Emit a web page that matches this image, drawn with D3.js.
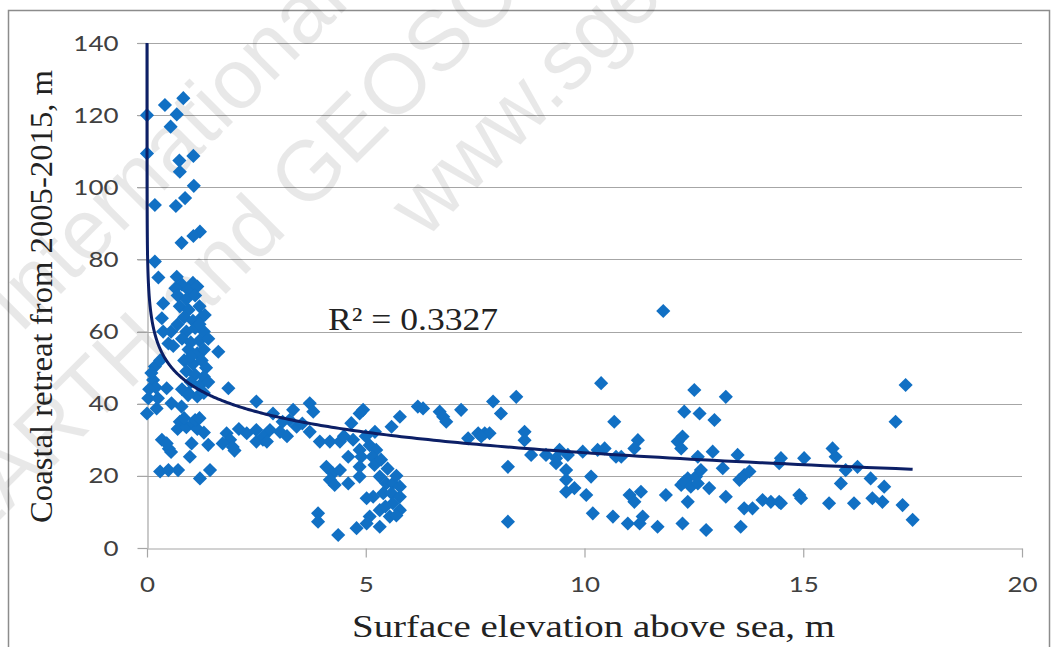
<!DOCTYPE html>
<meta charset="utf-8">
<style>
  body { margin: 0; background: #fff; }
</style>
<svg width="1057" height="647"></svg>
<script src="https://d3js.org/d3.v7.min.js"></script>
<script>
// surface elevation above sea (m) and coastal retreat 2005-2015 (m)
var elevation = [
  0, 0.41, 0.83, 0.68, 0.54, 0, 1.06, 0.74, 0.75, 1.07, 0.18, 0.87, 0.66, 1.21, 1.06, 0.79, 0.18, 0.26, 0.68, 0.8, 1.05, 0.95,
  0.65, 1.15, 0.7, 0.9, 1.1, 0.75, 0.95, 1.2, 0.85, 1.05, 1.25, 1.32, 0.7, 0.9, 1.1, 1.3, 0.8, 1.0, 1.2, 1.4, 0.95, 1.15, 1.3,
  0.85, 1.05, 1.25, 1.35, 0.9, 1.1, 1.3, 1.0, 1.2, 1.4, 0.95, 1.15, 1.3, 0.6, 0.55, 1.63, 0.8, 1.0, 1.2,
  0.37, 0.34, 0.37, 0.49, 0.18, 0.14, 0.1, 0.2, 0.45, 1.86, 0.03, 0.22, 0, 0.56, 0.79, 0.94, 0.25, 0.05, 0.3,
  0.75, 0.7, 0.9, 1.05, 1.15, 1.3, 1.1, 0.85, 1.2,
  0.34, 0.5, 0.55, 1.02, 1.4, 0.98, 0.3, 0.49, 0.71, 1.44, 1.21, 0.45,
  1.82, 1.9, 1.73, 1.96, 2.28, 2.5, 2.65, 2.5, 2.5, 2.1, 2.0,
  2.88, 3.34, 3.26, 3.42, 3.04, 2.81, 2.66, 2.74, 3.72, 3.8, 3.72, 4.94, 4.86, 4.67, 5.78, 5.59, 6.19, 5.21, 3.1, 3.55, 3.2,
  3.95, 4.18, 4.41, 4.71, 4.86, 5.09, 5.24, 4.6, 4.9, 5.15, 4.86, 5.2, 5.35, 4.1, 4.25, 4.41, 4.18, 4.29, 4.6, 4.86, 5.32,
  5.47, 5.62, 5.78, 5.4, 5.59, 5.78, 5.17, 5.62, 5.78, 5.32, 5.09, 5.55, 5.02, 5.32, 4.79, 3.91, 3.91, 4.37, 5.02, 4.5, 5.0,
  5.5, 5.7, 5.45, 5.7,
  6.31, 6.69, 6.77, 6.84, 7.18, 7.91, 8.44, 8.09, 7.34, 7.57, 7.72, 7.83, 7.64, 8.63, 8.63, 8.78, 8.25, 8.25, 10.38, 10.68,
  9.12, 9.35, 9.43, 9.62, 9.96, 10.3, 10.46, 9.35, 9.58, 9.58, 9.58, 9.77, 10.04, 10.15, 10.19, 10.65, 10.72,
  10.84, 11.22, 11.14, 11.03, 11.14, 11.29, 10.99, 11.26, 11.33, 11.67, 11.86, 12.51, 13.23, 12.28, 12.63, 12.97, 12.13,
  12.24, 12.21, 12.59, 12.93, 13.5, 13.16, 14.49, 14.45, 12.21, 12.36, 12.55, 12.66, 12.28, 12.43, 12.59, 12.85, 12.36,
  12.24, 12.78, 13.23, 13.57, 13.54, 13.65, 13.77, 13.65, 13.84, 14.07, 14.26, 14.45, 14.91, 14.95, 11.8,
  17.34, 17.11, 15.02, 15.67, 15.74, 15.97, 16.24, 15.86, 16.54, 16.85, 14.49, 15.59, 16.16, 16.58, 16.81, 17.27, 17.5
];
var retreat = [
  120, 122.8, 124.7, 120.2, 116.8, 109.4, 108.7, 107.4, 104.3, 100.4, 95.1, 97, 94.8, 87.7, 86.5, 84.6, 79.4, 75, 75.2, 73, 73.5, 71.5,
  72, 72.5, 70, 69, 70, 67, 66, 67, 64, 63, 64, 64.6, 62, 60, 61, 60, 58, 57, 57.5, 58, 55, 54, 55,
  52, 51, 52, 50, 49, 48, 47.5, 46, 45, 46, 43, 42, 43, 56, 60, 54.4, 44, 53, 62,
  67.8, 63.7, 60, 56.7, 50.3, 46.6, 48.5, 44.5, 44.3, 44.3, 41.5, 38.7, 37.3, 40.1, 39.2, 42.4, 41.5, 44, 52,
  35, 33, 33.5, 34.5, 33, 32, 35.5, 36, 36,
  30, 27.5, 26.6, 29, 28.6, 25.3, 21.2, 21.6, 21.6, 21.6, 19.3, 29,
  31.8, 30, 29, 28, 31.8, 32.7, 30, 29.5, 40.6, 33, 27,
  37.3, 38.3, 35.5, 33.6, 32.2, 32.7, 30.9, 29.5, 40.1, 37.8, 32.2, 38.3, 37.3, 34.6, 36.4, 33.6, 39.2, 32.2, 35, 34.5, 31,
  29.5, 29.5, 29.5, 30, 27.2, 28.5, 27.2, 25.3, 25.3, 25.3, 22.5, 23, 24.5, 22.5, 20.7, 21.6, 18.9, 17.5, 17.9, 19.8, 19.8,
  17.9, 17.9, 17, 15.2, 15.2, 14.2, 14.2, 12.4, 10.5, 10.5, 8.7, 8.7, 6.8, 5.9, 5.5, 9.6, 7.3, 3.6, 13.8, 31, 31,
  22, 20, 11.5, 9,
  38.7, 37.8, 36.4, 35, 38.3, 40.6, 41.9, 37.3, 30.4, 31.8, 31.8, 31.8, 30.9, 32.2, 29.9, 25.8, 22.5, 7.3, 45.7, 35,
  25.8, 24.9, 27.2, 25.8, 26.7, 27.2, 27.6, 23.5, 21.6, 18.9, 15.6, 16.6, 14.7, 19.8, 9.6, 8.7, 25.3,
  25.3, 29.9, 27.6, 14.7, 12.8, 15.6, 6.8, 6.8, 8.7, 5.9, 14.7, 43.8, 41.9, 37.8, 37.3, 35.5, 29.5,
  30.9, 27.6, 25.3, 26.7, 25.8, 22.1, 24.9, 23.5, 17.5, 19.3, 19.8, 21.6, 18.4, 17, 17.9, 16.6, 12.8,
  6.8, 5, 14.2, 5.9, 18.9, 20.2, 21.2, 11, 11, 13.3, 12.8, 12.8, 14.7, 13.8, 65.7,
  45.2, 35, 24.9, 27.6, 25.3, 21.6, 22.5, 17.9, 19.3, 17, 12.4, 12.4, 12.4, 13.8, 12.8, 11.9, 7.8
];

// logarithmic trend line y = a*ln(x) + b, as shown on the chart
var trendCoef = [-8.2, 45.3];
var rSquared = "R\u00b2 = 0.3327";

var xTicks = [0, 5, 10, 15, 20];
var yTicks = [0, 20, 40, 60, 80, 100, 120, 140];

var watermarks = ["International", "EARTH and GEOSCIENCES", "www.sgem.org"];

var svg = d3.select("svg");
var plotLeft = 147, plotRight = 1022, plotTop = 43, plotBottom = 548;

var x = d3.scaleLinear().domain([0, 20]).range([plotLeft, plotRight]);
var y = d3.scaleLinear().domain([0, 140]).range([plotBottom, plotTop]);

var serif = "'Liberation Serif', 'Times New Roman', serif";
var sans = "Lato, 'Open Sans', sans-serif";

// outer chart frame
svg.append("rect")
    .attr("x", 8.5).attr("y", 10.5)
    .attr("width", 1041).attr("height", 660)
    .attr("fill", "none")
    .attr("stroke", "#8c8c8c")
    .attr("stroke-width", 1.5);

// gridlines
svg.append("g")
    .selectAll("line")
    .data(yTicks.slice(1))
    .join("line")
    .attr("x1", plotLeft - 10).attr("x2", plotRight)
    .attr("y1", d => Math.round(y(d)) + 0.5)
    .attr("y2", d => Math.round(y(d)) + 0.5)
    .attr("stroke", "#a6a6a6")
    .attr("stroke-width", 1.2);

// watermark
var wm = svg.append("g")
    .attr("fill", "#000")
    .attr("fill-opacity", 0.09)
    .style("font-family", "'Liberation Sans', Arial, sans-serif")
    .style("font-size", "85px");
wm.append("text").attr("transform", "translate(20,335) rotate(-45)").text(watermarks[0]);
wm.append("text").attr("transform", "translate(-31,551) rotate(-45)").text(watermarks[1]);
wm.append("text").attr("transform", "translate(425,240) rotate(-45)").text(watermarks[2]);

// stretch tick labels a little wider, as in the original
function widen(sel, k) {
  sel.each(function() {
    var w = this.getComputedTextLength();
    d3.select(this).attr("textLength", w * k).attr("lengthAdjust", "spacingAndGlyphs");
  });
}

// x axis
var xAxis = svg.append("g")
    .attr("transform", "translate(0," + (plotBottom + 0.5) + ")")
    .call(d3.axisBottom(x).tickValues(xTicks).tickSize(9).tickSizeOuter(0).tickPadding(19));
xAxis.select(".domain").attr("stroke", "#a6a6a6").attr("stroke-width", 1.2);
xAxis.selectAll(".tick line").attr("stroke", "#a6a6a6").attr("stroke-width", 1.2);
xAxis.selectAll("text")
    .attr("fill", "#404040")
    .style("font-family", sans)
    .style("font-size", "22px")
    .call(widen, 1.18);

// y axis
var yAxis = svg.append("g")
    .attr("transform", "translate(" + (plotLeft + 0.5) + ",0)")
    .call(d3.axisLeft(y).tickValues(yTicks).tickSize(10).tickSizeOuter(0).tickPadding(19));
yAxis.select(".domain").attr("stroke", "#a6a6a6").attr("stroke-width", 1.2);
yAxis.selectAll(".tick line").attr("stroke", "#a6a6a6").attr("stroke-width", 1.2);
yAxis.selectAll("text")
    .attr("fill", "#404040")
    .style("font-family", sans)
    .style("font-size", "22px")
    .call(widen, 1.18);

// points
var pts = elevation.map((e, i) => ({e: e, r: retreat[i]}));
var diamond = d3.symbol().type(d3.symbolSquare).size(100);
svg.append("g")
    .selectAll("path")
    .data(pts)
    .join("path")
    .attr("d", diamond)
    .attr("transform", d => "translate(" + x(d.e) + "," + y(d.r) + ") rotate(45)")
    .attr("fill", "#1170c4");

// trend line, clipped to the plot area
svg.append("clipPath").attr("id", "plot")
    .append("rect")
    .attr("x", plotLeft - 3).attr("y", plotTop)
    .attr("width", plotRight - plotLeft + 3).attr("height", plotBottom - plotTop);

var maxE = d3.max(elevation);
var trendX = d3.range(-16, Math.log(maxE) + 0.02, 0.02).map(Math.exp);
trendX[trendX.length - 1] = maxE;
var line = d3.line()
    .x(d => x(d))
    .y(d => y(trendCoef[0] * Math.log(d) + trendCoef[1]));
svg.append("path")
    .datum(trendX)
    .attr("clip-path", "url(#plot)")
    .attr("d", line)
    .attr("fill", "none")
    .attr("stroke", "#0c1f66")
    .attr("stroke-width", 3);

// R squared label
svg.append("text")
    .attr("x", 328).attr("y", 330)
    .style("font-family", serif)
    .style("font-size", "32px")
    .attr("fill", "#222")
    .attr("textLength", 170).attr("lengthAdjust", "spacingAndGlyphs")
    .text(rSquared);

// axis titles
svg.append("text")
    .attr("x", 352).attr("y", 637)
    .style("font-family", serif)
    .style("font-size", "32px")
    .attr("fill", "#222")
    .attr("textLength", 483).attr("lengthAdjust", "spacingAndGlyphs")
    .text("Surface elevation above sea, m");

svg.append("text")
    .attr("transform", "translate(52,523) rotate(-90)")
    .style("font-family", serif)
    .style("font-size", "32px")
    .attr("fill", "#222")
    .attr("textLength", 453).attr("lengthAdjust", "spacingAndGlyphs")
    .text("Coastal retreat from 2005-2015, m");
</script>
